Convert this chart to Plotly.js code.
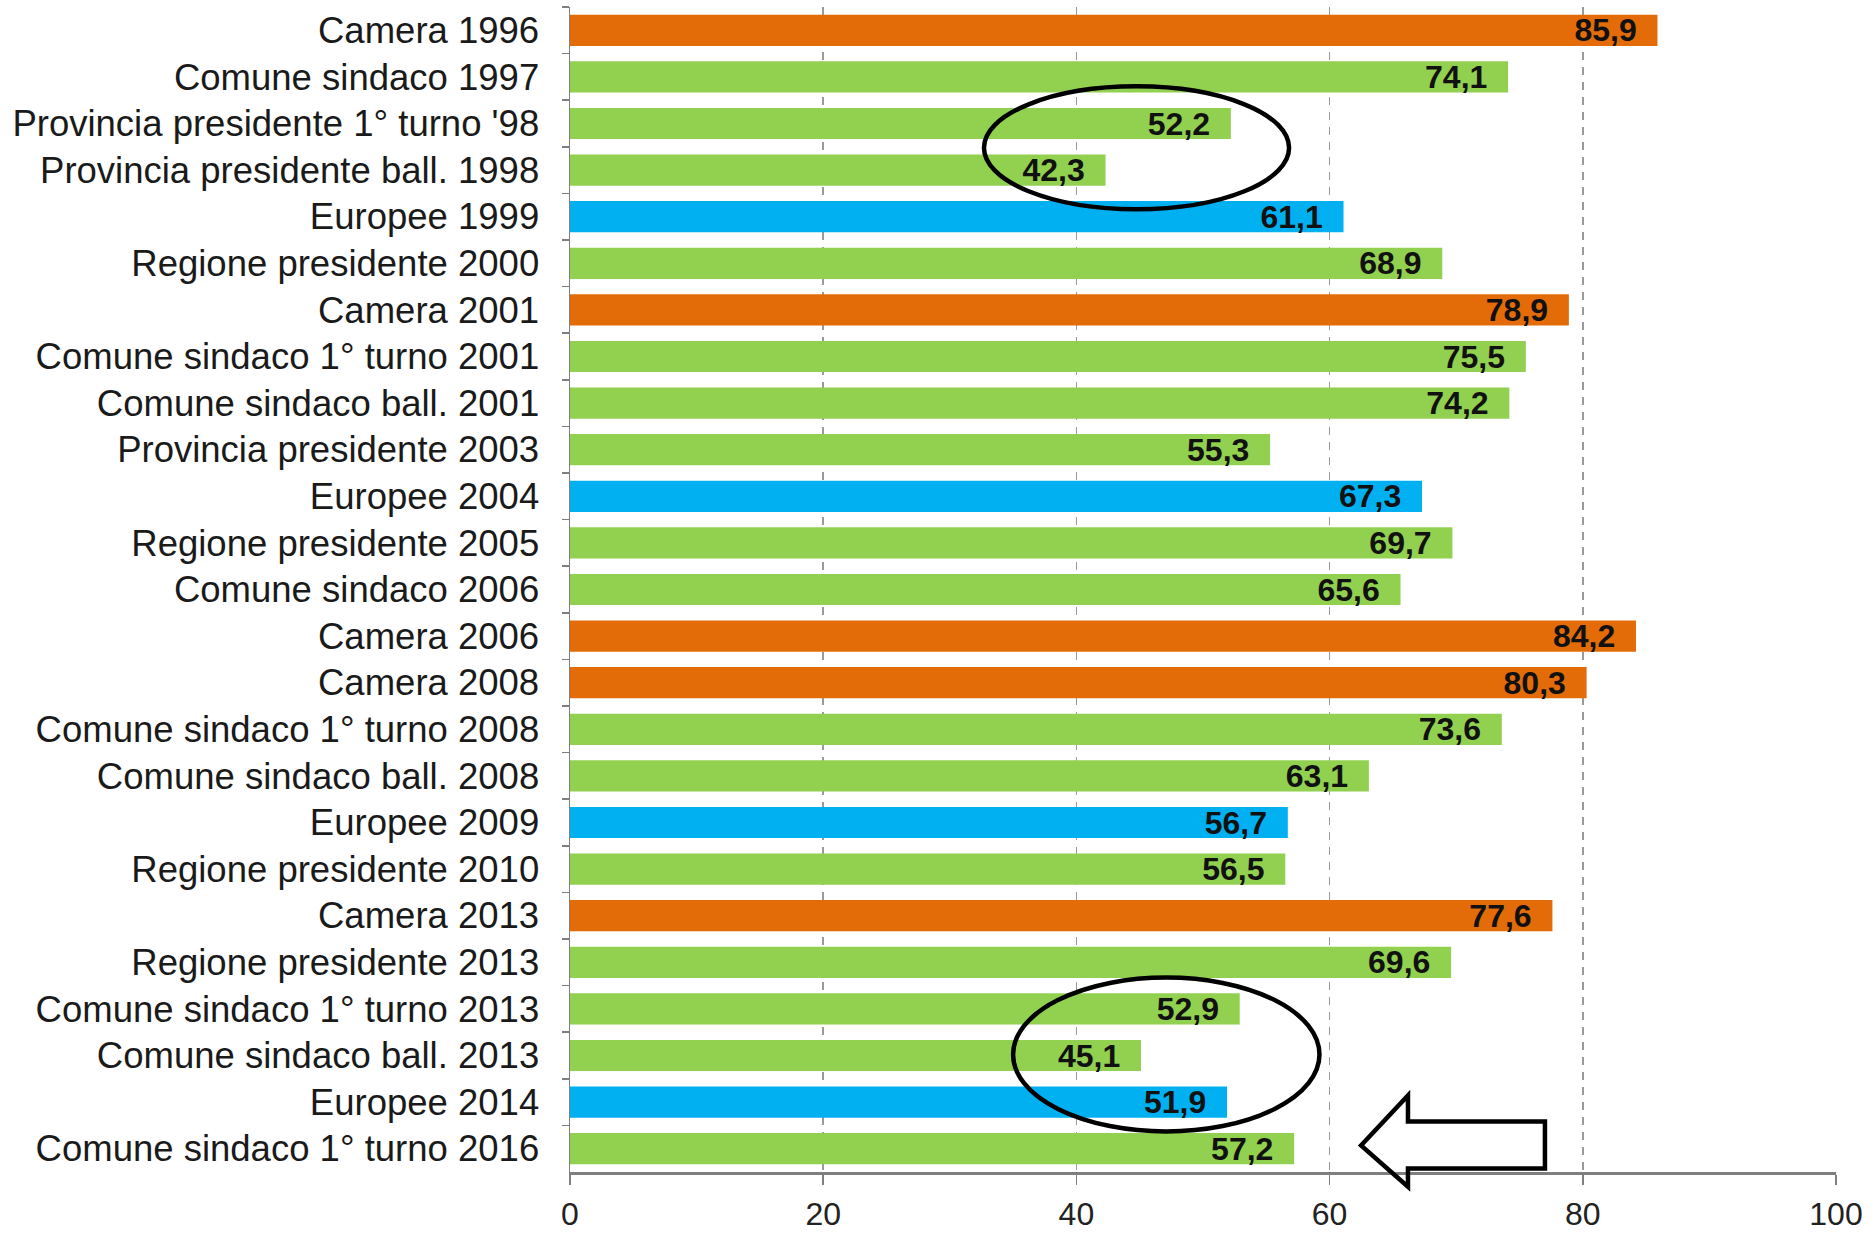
<!DOCTYPE html>
<html>
<head>
<meta charset="utf-8">
<script src="https://cdn.plot.ly/plotly-3.0.1.min.js"></script>
<style>
  html, body { margin: 0; padding: 0; background: #ffffff; }
  #chart { width: 1875px; height: 1233px; }
</style>
</head>
<body>
<div id="chart"></div>
<script>
// Election labels (top to bottom)
const elections = [
  "Camera 1996",
  "Comune sindaco 1997",
  "Provincia presidente 1° turno '98",
  "Provincia presidente ball. 1998",
  "Europee 1999",
  "Regione presidente 2000",
  "Camera 2001",
  "Comune sindaco 1° turno 2001",
  "Comune sindaco ball. 2001",
  "Provincia presidente 2003",
  "Europee 2004",
  "Regione presidente 2005",
  "Comune sindaco 2006",
  "Camera 2006",
  "Camera 2008",
  "Comune sindaco 1° turno 2008",
  "Comune sindaco ball. 2008",
  "Europee 2009",
  "Regione presidente 2010",
  "Camera 2013",
  "Regione presidente 2013",
  "Comune sindaco 1° turno 2013",
  "Comune sindaco ball. 2013",
  "Europee 2014",
  "Comune sindaco 1° turno 2016"
];

// Turnout (%)
const turnout = [
  85.9, 74.1, 52.2, 42.3, 61.1, 68.9, 78.9, 75.5, 74.2, 55.3,
  67.3, 69.7, 65.6, 84.2, 80.3, 73.6, 63.1, 56.7, 56.5, 77.6,
  69.6, 52.9, 45.1, 51.9, 57.2
];

const xTicks = [0, 20, 40, 60, 80, 100];

function colorFor(label) {
  if (label.startsWith("Camera")) return "#E36C09";
  if (label.startsWith("Europee")) return "#00B0F0";
  return "#92D050";
}

const trace = {
  type: "bar",
  orientation: "h",
  y: elections,
  x: turnout,
  marker: { color: elections.map(colorFor), line: { width: 0 } },
  texttemplate: "%{x:.1f}\u00a0\u00a0",
  textposition: "inside",
  insidetextanchor: "end",
  textangle: 0,
  constraintext: "none",
  textfont: { family: "Liberation Sans, Arial, sans-serif", size: 32, color: "#111111", weight: "bold" },
  hoverinfo: "none",
  cliponaxis: false
};

const lineStyle = { color: "#000000", width: 4.5 };

const layout = {
  width: 1875,
  height: 1233,
  margin: { l: 570, r: 39, t: 7, b: 61 },
  paper_bgcolor: "#ffffff",
  plot_bgcolor: "#ffffff",
  separators: ",.",
  showlegend: false,
  bargap: 0.33,
  font: { family: "Liberation Sans, Arial, sans-serif", color: "#1a1a1a" },
  xaxis: {
    range: [0, 100],
    tickvals: xTicks,
    ticktext: xTicks.map(String),
    showgrid: true,
    gridcolor: "#9a9a9a",
    gridwidth: 1.5,
    griddash: "8px,7px",
    zeroline: false,
    showline: true,
    linecolor: "#7f7f7f",
    linewidth: 2.5,
    ticks: "outside",
    ticklen: 10,
    tickwidth: 1.5,
    tickcolor: "#7f7f7f",
    ticklabelstandoff: 2,
    tickfont: { size: 32, color: "#222222" },
    fixedrange: true
  },
  yaxis: {
    type: "category",
    autorange: "reversed",
    showgrid: false,
    zeroline: false,
    showline: true,
    linecolor: "#7f7f7f",
    linewidth: 1.5,
    ticks: "outside",
    tickson: "boundaries",
    ticklen: 7,
    tickwidth: 1.5,
    tickcolor: "#7f7f7f",
    ticklabelstandoff: 22,
    tickfont: { size: 36.5, color: "#1a1a1a" },
    fixedrange: true
  },
  shapes: [
    // ellipse around 1998 provincial elections
    { type: "circle", xref: "x", yref: "paper", x0: 32.7, x1: 56.8, y0: 0.8264, y1: 0.9319,
      line: lineStyle, fillcolor: "rgba(0,0,0,0)", layer: "above" },
    // ellipse around 2013-2014 elections
    { type: "circle", xref: "x", yref: "paper", x0: 35.0, x1: 59.2, y0: 0.0348, y1: 0.1669,
      line: lineStyle, fillcolor: "rgba(0,0,0,0)", layer: "above" },
    // outlined arrow pointing to 2016
    { type: "path", xref: "x", yref: "paper",
      path: "M62.48,0.0228 L66.19,0.0657 L66.19,0.0434 L77.01,0.0434 L77.01,0.0031 L66.19,0.0031 L66.19,-0.0127 Z",
      line: lineStyle, fillcolor: "rgba(0,0,0,0)", layer: "above" }
  ]
};

Plotly.newPlot("chart", [trace], layout, { displayModeBar: false, staticPlot: true });
</script>
</body>
</html>
